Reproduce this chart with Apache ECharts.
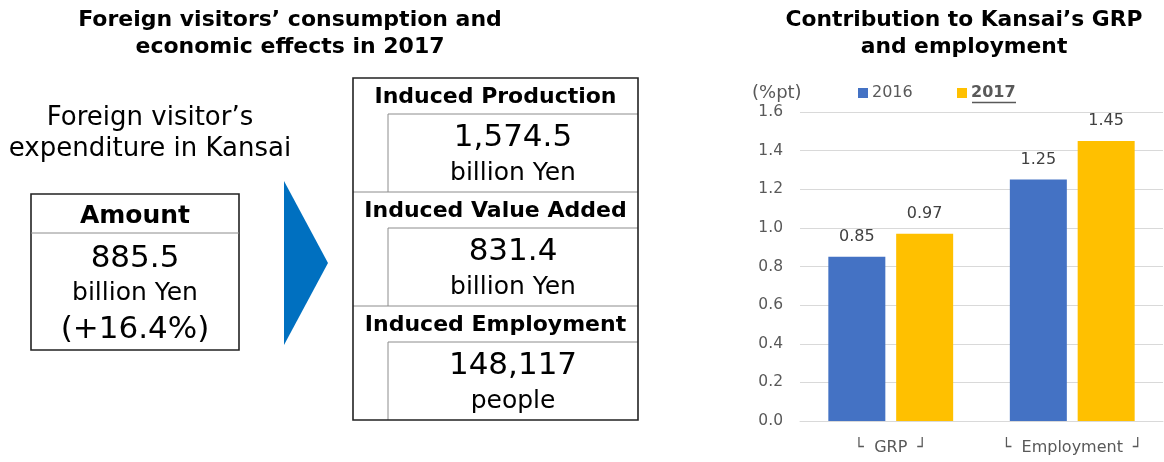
<!DOCTYPE html>
<html>
<head>
<meta charset="utf-8">
<script src="https://cdn.jsdelivr.net/npm/echarts@6/dist/echarts.min.js"></script>
<style>
html,body{margin:0;padding:0;background:#fff;}
#main{width:1164px;height:462px;}
</style>
</head>
<body>
<div id="main"></div>
<script>
// ---- data ----
const categories = ['GRP', 'Employment'];
const seriesNames = ['2016', '2017'];
const values2016 = [0.85, 1.25];
const values2017 = [0.97, 1.45];
const yMin = 0, yMax = 1.6, yInterval = 0.2;

const leftTitle = ['Foreign visitors\u2019 consumption and', 'economic effects in 2017'];
const rightTitle = ['Contribution to Kansai\u2019s GRP', 'and employment'];
const expenditureLabel = ['Foreign visitor\u2019s', 'expenditure in Kansai'];
const amountHeader = 'Amount';
const amountValue = '885.5';
const amountUnit = 'billion Yen';
const amountChange = '(+16.4%)';
const inducedHeaders = ['Induced Production', 'Induced Value Added', 'Induced Employment'];
const inducedValues = ['1,574.5', '831.4', '148,117'];
const inducedUnits = ['billion Yen', 'billion Yen', 'people'];

// ---- styles ----
const FONT = "'DejaVu Sans', Verdana, sans-serif";
const BLUE = '#4472C4', GOLD = '#FFC000';
const AXIS_TXT = '#595959', LABEL_TXT = '#404040', GRID = '#D9D9D9';

function txt(x, y, text, size, weight, color, lh) {
  return {
    type: 'text', x: x, y: y, silent: true,
    style: {
      text: text, fill: color || '#000',
      font: (weight || 'normal') + ' ' + size + 'px ' + FONT,
      textAlign: 'center', textVerticalAlign: 'middle',
      lineHeight: lh || size * 1.2
    }
  };
}
function line(x1, y1, x2, y2, color, w) {
  return { type: 'line', silent: true, shape: { x1: x1, y1: y1, x2: x2, y2: y2 },
           style: { stroke: color, lineWidth: w } };
}

const graphics = [];
// titles
graphics.push(txt(290, 34, leftTitle.join('\n'), 22, 'bold', '#000', 27));
graphics.push(txt(964, 34, rightTitle.join('\n'), 21.8, 'bold', '#000', 27));
// expenditure label
graphics.push(txt(150, 134, expenditureLabel.join('\n'), 26, 'normal', '#000', 31));
// amount box
graphics.push({ type: 'rect', silent: true, shape: { x: 31, y: 194, width: 208, height: 156 },
  style: { fill: 'none', stroke: '#222', lineWidth: 1.6 } });
graphics.push(line(31, 233, 239, 233, '#8c8c8c', 1));
graphics.push(txt(135, 216, amountHeader, 25, 'bold'));
graphics.push(txt(135, 259, amountValue, 31, 'normal'));
graphics.push(txt(135, 293, amountUnit, 25, 'normal'));
graphics.push(txt(135, 330, amountChange, 31, 'normal'));
// arrow
graphics.push({ type: 'polygon', silent: true,
  shape: { points: [[284, 181], [328, 263], [284, 345]] },
  style: { fill: '#0070C0' } });
// induced box
const bx = 353, bw = 285, by = 78, sec = 114, hdr = 36, inX = 388;
for (let i = 0; i < 3; i++) {
  const top = by + i * sec;
  if (i > 0) graphics.push(line(bx, top, bx + bw, top, '#8c8c8c', 1));
  graphics.push(line(inX, top + hdr, bx + bw, top + hdr, '#8c8c8c', 1));
  graphics.push(line(inX, top + hdr, inX, top + sec, '#8c8c8c', 1));
  graphics.push(txt(bx + bw / 2, top + 19, inducedHeaders[i], 22, 'bold'));
  graphics.push(txt((inX + bx + bw) / 2, top + 60, inducedValues[i], 31, 'normal'));
  graphics.push(txt((inX + bx + bw) / 2, top + 95, inducedUnits[i], 25, 'normal'));
}
graphics.push({ type: 'rect', silent: true, shape: { x: bx, y: by, width: bw, height: sec * 3 },
  style: { fill: 'none', stroke: '#222', lineWidth: 1.6 } });
// y-axis unit + legend underline
graphics.push({ type: 'text', x: 752, y: 93, silent: true,
  style: { text: '(%pt)', fill: AXIS_TXT, font: '18px ' + FONT, textAlign: 'left', textVerticalAlign: 'middle' } });
graphics.push(line(972, 102.5, 1016, 102.5, AXIS_TXT, 1.5));

const chart = echarts.init(document.getElementById('main'), null, { renderer: 'canvas' });
chart.setOption({
  backgroundColor: '#fff',
  animation: false,
  textStyle: { fontFamily: FONT },
  grid: { left: 800, right: 1, top: 112, bottom: 41, containLabel: false },
  legend: [
    { data: [seriesNames[0]], left: 858, top: 85, padding: 0, itemWidth: 10, itemHeight: 10, itemGap: 0,
      icon: 'rect', textStyle: { color: AXIS_TXT, fontSize: 16, fontFamily: FONT, padding: [0, 0, 0, -1] } },
    { data: [seriesNames[1]], left: 957, top: 85, padding: 0, itemWidth: 10, itemHeight: 10, itemGap: 0,
      icon: 'rect', textStyle: { color: AXIS_TXT, fontSize: 16, fontWeight: 'bold', fontFamily: FONT, padding: [0, 0, 0, -1] } }
  ],
  xAxis: {
    type: 'category', data: categories,
    axisLine: { show: true, lineStyle: { color: GRID, width: 1 } },
    axisTick: { show: false },
    axisLabel: {
      interval: 0, hideOverlap: false,
      margin: 19, color: AXIS_TXT, fontSize: 16, fontFamily: FONT,
      formatter: function (v) { return '\u2514  ' + v + '  \u2518'; }
    }
  },
  yAxis: {
    type: 'value', min: yMin, max: yMax, interval: yInterval,
    axisLine: { show: false }, axisTick: { show: false },
    splitLine: { lineStyle: { color: GRID, width: 1 } },
    axisLabel: { margin: 17, color: AXIS_TXT, fontSize: 15.5, fontFamily: FONT,
      formatter: function (v) { return v.toFixed(1); } }
  },
  series: [
    { name: seriesNames[0], type: 'bar', data: values2016, barWidth: 57, barGap: '19%',
      itemStyle: { color: BLUE },
      label: { show: true, position: 'top', distance: 12, color: LABEL_TXT, fontSize: 16, fontFamily: FONT,
        formatter: function (p) { return p.value.toFixed(2); } } },
    { name: seriesNames[1], type: 'bar', data: values2017, barWidth: 57, barGap: '19%',
      itemStyle: { color: GOLD },
      label: { show: true, position: 'top', distance: 12, color: LABEL_TXT, fontSize: 16, fontFamily: FONT,
        formatter: function (p) { return p.value.toFixed(2); } } }
  ],
  graphic: graphics
});
</script>
</body>
</html>
